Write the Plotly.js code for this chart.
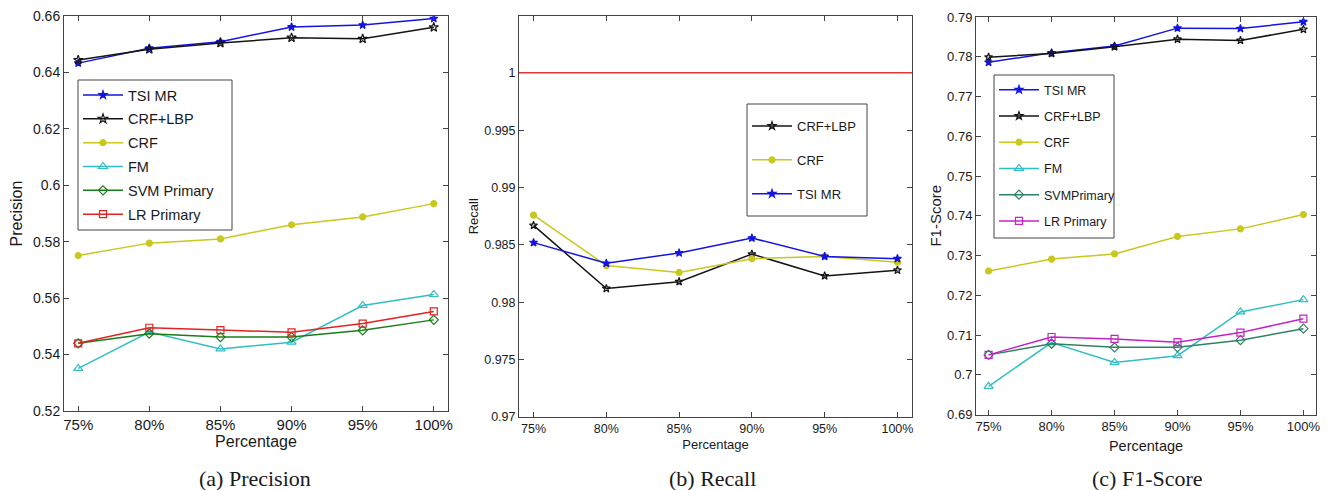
<!DOCTYPE html>
<html>
<head>
<meta charset="utf-8">
<script src="https://cdn.plot.ly/plotly-3.0.1.min.js"></script>
<style>
  html, body { margin: 0; padding: 0; background: #fff; }
  #chart { width: 1329px; height: 490px; }
</style>
</head>
<body>
<div id="chart"></div>
<script>
// Training-set percentages on the x axis
const percentages = ['75%', '80%', '85%', '90%', '95%', '100%'];

// (a) Precision
const precTSIMR  = [0.6433, 0.6486, 0.6509, 0.6561, 0.6568, 0.6591];
const precCRFLBP = [0.6444, 0.6482, 0.6504, 0.6523, 0.6519, 0.6560];
const precCRF    = [0.5751, 0.5795, 0.5810, 0.5860, 0.5888, 0.5935];
const precFM     = [0.5351, 0.5480, 0.5420, 0.5444, 0.5574, 0.5613];
const precSVM    = [0.5440, 0.5474, 0.5462, 0.5462, 0.5486, 0.5523];
const precLR     = [0.5440, 0.5495, 0.5487, 0.5479, 0.5510, 0.5553];

// (b) Recall
const recCRFLBP = [0.9867, 0.9812, 0.9818, 0.9842, 0.9823, 0.9828];
const recCRF    = [0.9876, 0.9832, 0.9826, 0.9838, 0.9840, 0.9835];
const recTSIMR  = [0.9852, 0.9834, 0.9843, 0.9856, 0.9840, 0.9838];
const recPrimaryLevel = 1.0;   // FM / SVM / LR primary all reach full recall

// (c) F1-Score
const f1TSIMR  = [0.7786, 0.7810, 0.7827, 0.7872, 0.7871, 0.7888];
const f1CRFLBP = [0.7799, 0.7808, 0.7825, 0.7844, 0.7841, 0.7869];
const f1CRF    = [0.7261, 0.7291, 0.7304, 0.7348, 0.7367, 0.7403];
const f1FM     = [0.6971, 0.7081, 0.7031, 0.7048, 0.7158, 0.7189];
const f1SVM    = [0.7050, 0.7078, 0.7069, 0.7069, 0.7087, 0.7116];
const f1LR     = [0.7050, 0.7095, 0.7090, 0.7082, 0.7106, 0.7141];

// Tick labels
const precTicks = [0.52, 0.54, 0.56, 0.58, 0.60, 0.62, 0.64, 0.66];
const precTickText = ['0.52', '0.54', '0.56', '0.58', '0.6', '0.62', '0.64', '0.66'];
const recTicks = [0.97, 0.975, 0.98, 0.985, 0.99, 0.995, 1.0];
const recTickText = ['0.97', '0.975', '0.98', '0.985', '0.99', '0.995', '1'];
const f1Ticks = [0.69, 0.70, 0.71, 0.72, 0.73, 0.74, 0.75, 0.76, 0.77, 0.78, 0.79];
const f1TickText = ['0.69', '0.7', '0.71', '0.72', '0.73', '0.74', '0.75', '0.76', '0.77', '0.78', '0.79'];

const C = {
  blue: 'rgb(20,20,225)',
  black: 'rgb(20,20,20)',
  yellow: 'rgb(200,200,30)',
  cyan: 'rgb(50,190,195)',
  greenA: 'rgb(25,125,25)',
  greenC: 'rgb(45,130,100)',
  red: 'rgb(225,35,35)',
  magenta: 'rgb(195,35,195)',
  refRed: 'rgb(215,55,55)'
};

function series(y, name, color, symbol, size, xa, ya, legend, rank) {
  return {
    x: percentages, y: y, name: name, type: 'scatter', mode: 'lines+markers',
    xaxis: xa, yaxis: ya, legend: legend, legendgroup: legend + name, legendrank: rank,
    line: { color: color, width: 1.5 },
    marker: { symbol: symbol, size: size, color: color, line: { color: color, width: 1.2 } }
  };
}

const traces = [
  // (a)
  series(precTSIMR,  'TSI MR',      C.blue,   'star',          6, 'x',  'y',  'legend', 1),
  series(precCRFLBP, 'CRF+LBP',     C.black,  'star-open',     7, 'x',  'y',  'legend', 2),
  series(precCRF,    'CRF',         C.yellow, 'circle',        6, 'x',  'y',  'legend', 3),
  series(precFM,     'FM',          C.cyan,   'triangle-up-open', 8, 'x', 'y', 'legend', 4),
  series(precSVM,    'SVM Primary', C.greenA, 'diamond-open',  7, 'x',  'y',  'legend', 5),
  series(precLR,     'LR Primary',  C.red,    'square-open',   7, 'x',  'y',  'legend', 6),
  // (b)
  series(recCRFLBP, 'CRF+LBP', C.black,  'star-open', 6, 'x2', 'y2', 'legend2', 1),
  series(recCRF,    'CRF',     C.yellow, 'circle',    6, 'x2', 'y2', 'legend2', 2),
  series(recTSIMR,  'TSI MR',  C.blue,   'star',      6, 'x2', 'y2', 'legend2', 3),
  // (c)
  series(f1TSIMR,  'TSI MR',     C.blue,    'star',          6, 'x3', 'y3', 'legend3', 1),
  series(f1CRFLBP, 'CRF+LBP',    C.black,   'star-open',     6, 'x3', 'y3', 'legend3', 2),
  series(f1CRF,    'CRF',        C.yellow,  'circle',        6, 'x3', 'y3', 'legend3', 3),
  series(f1FM,     'FM',         C.cyan,    'triangle-up-open', 8, 'x3', 'y3', 'legend3', 4),
  series(f1SVM,    'SVMPrimary', C.greenC,  'diamond-open',  7, 'x3', 'y3', 'legend3', 5),
  series(f1LR,     'LR Primary', C.magenta, 'square-open',   7, 'x3', 'y3', 'legend3', 6)
];

const W = 1329, H = 490;
const px = v => v / W;
const py = v => 1 - v / H;

const axisLine = '#444';
function xAxis(domain, anchor, fontSize, titleSize, standoff) {
  return {
    domain: domain, anchor: anchor, type: 'category', range: [-0.2, 5.2],
    showline: true, linecolor: axisLine, linewidth: 1, mirror: 'allticks',
    ticks: 'inside', ticklen: 5, tickcolor: axisLine, showgrid: false, zeroline: false,
    tickfont: { family: 'Liberation Sans, Arial, sans-serif', size: fontSize, color: '#1a1a1a' },
    title: { text: 'Percentage', standoff: standoff,
             font: { family: 'Liberation Sans, Arial, sans-serif', size: titleSize, color: '#1a1a1a' } }
  };
}
function yAxis(domain, anchor, range, tv, tt, fontSize, title, titleSize, standoff) {
  return {
    domain: domain, anchor: anchor, range: range,
    tickmode: 'array', tickvals: tv, ticktext: tt,
    showline: true, linecolor: axisLine, linewidth: 1, mirror: 'allticks',
    ticks: 'inside', ticklen: 5, tickcolor: axisLine, showgrid: false, zeroline: false,
    tickfont: { family: 'Liberation Sans, Arial, sans-serif', size: fontSize, color: '#1a1a1a' },
    title: { text: title, standoff: standoff,
             font: { family: 'Liberation Sans, Arial, sans-serif', size: titleSize, color: '#1a1a1a' } }
  };
}

// Legend entries sit on a separately drawn white frame so the frame's padding can be set freely
function legendBox(x, y, fontSize, gap) {
  return {
    x: x, y: y, xanchor: 'left', yanchor: 'top', xref: 'paper', yref: 'paper',
    bgcolor: 'rgba(0,0,0,0)', borderwidth: 0,
    traceorder: 'grouped', tracegroupgap: gap, itemwidth: 40,
    font: { family: 'Liberation Sans, Arial, sans-serif', size: fontSize, color: '#1a1a1a' }
  };
}
function legendFrame(x0, y0, x1, y1) {
  return { type: 'rect', xref: 'paper', yref: 'paper', layer: 'above',
           x0: px(x0), x1: px(x1), y0: py(y1), y1: py(y0),
           fillcolor: '#fff', line: { color: '#444', width: 1 } };
}

const captionFont = { family: 'Liberation Serif, Times New Roman, serif', size: 22, color: '#1a1a1a' };

const layout = {
  width: W, height: H,
  margin: { l: 0, r: 0, t: 0, b: 0 },
  paper_bgcolor: '#fff', plot_bgcolor: '#fff',
  xaxis:  xAxis([px(64), px(448)], 'y', 15, 16, 3),
  yaxis:  yAxis([py(411), py(16)], 'x', [0.52, 0.66], precTicks, precTickText, 14, 'Precision', 16, 6),
  xaxis2: xAxis([px(519), px(912)], 'y2', 12.5, 13, 4),
  yaxis2: yAxis([py(417), py(15.5)], 'x2', [0.97, 1.005], recTicks, recTickText, 12.5, 'Recall', 13, 2),
  xaxis3: xAxis([px(976), px(1316)], 'y3', 13, 14.5, 7),
  yaxis3: yAxis([py(414.5), py(17)], 'x3', [0.69, 0.79], f1Ticks, f1TickText, 13, 'F1-Score', 15, 1),
  legend:  legendBox(px(78), py(79), 14.5, 2),
  legend2: legendBox(px(747), py(111), 13, 14),
  legend3: legendBox(px(994), py(75), 12.5, 7),
  shapes: [
    // full-recall level for the primary classifiers
    { type: 'line', xref: 'x2 domain', yref: 'y2', x0: 0, x1: 1,
      y0: recPrimaryLevel, y1: recPrimaryLevel, line: { color: C.refRed, width: 1.5 } },
    legendFrame(78, 80, 232, 230),
    legendFrame(747, 104, 867, 216),
    legendFrame(994, 75, 1114, 238)
  ],
  annotations: [
    { text: '(a) Precision', xref: 'paper', yref: 'paper', x: px(255), y: py(478),
      xanchor: 'center', yanchor: 'middle', showarrow: false, font: captionFont },
    { text: '(b) Recall', xref: 'paper', yref: 'paper', x: px(712), y: py(478),
      xanchor: 'center', yanchor: 'middle', showarrow: false, font: captionFont },
    { text: '(c) F1-Score', xref: 'paper', yref: 'paper', x: px(1147), y: py(478),
      xanchor: 'center', yanchor: 'middle', showarrow: false, font: captionFont }
  ]
};

Plotly.newPlot('chart', traces, layout, { staticPlot: true, displayModeBar: false });
</script>
</body>
</html>
